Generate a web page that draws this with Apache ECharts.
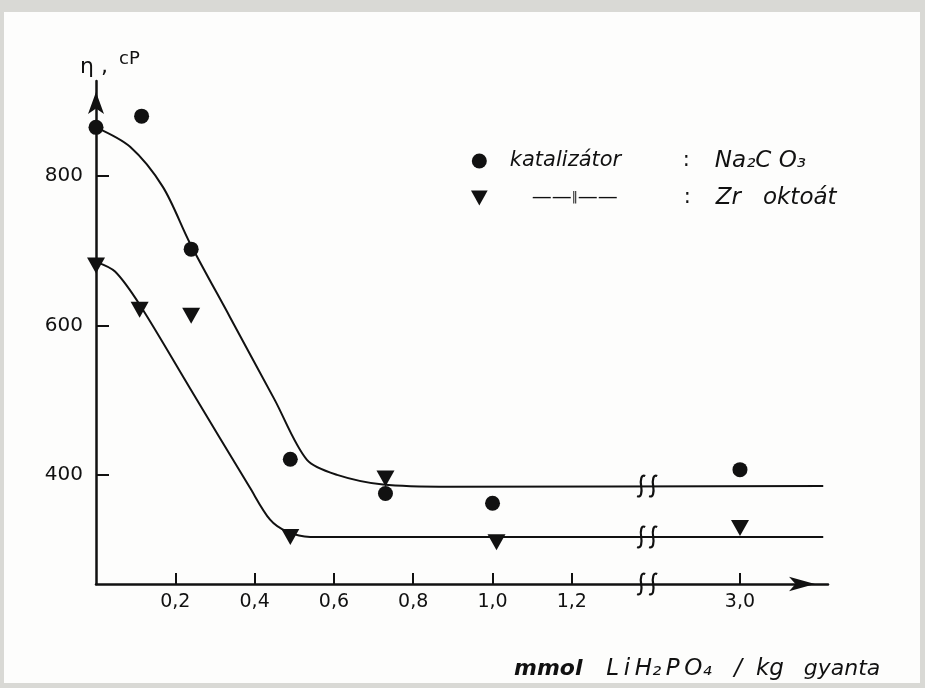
<!DOCTYPE html>
<html>
<head>
<meta charset="utf-8">
<script src="https://cdn.jsdelivr.net/npm/echarts@6/dist/echarts.min.js"></script>
<style>
  html, body { margin: 0; padding: 0; background: #d9d9d5; }
  #chart { width: 925px; height: 688px; }
</style>
</head>
<body>
<div id="chart"></div>
<script>
// Viscosity (cP) of the resin vs. LiH2PO4 content (mmol / kg resin)

// measured points, catalyst Na2CO3
const naX = [0, 0.115, 0.24, 0.49, 0.73, 1.0, 3.0];
const naY = [865, 880, 702, 421, 375, 362, 407];

// measured points, catalyst Zr octoate
const zrX = [0, 0.11, 0.24, 0.49, 0.73, 1.01, 3.0];
const zrY = [680, 621, 613, 317, 395, 310, 329];

// hand-fitted trend curves
const naFitX = [0, 0.086, 0.169, 0.237, 0.338, 0.451, 0.532, 0.608, 0.724, 0.893, 3.21];
const naFitY = [865, 839, 785, 710, 611, 500, 420, 400, 387, 384, 385];
const zrFitX = [0, 0.048, 0.111, 0.237, 0.388, 0.439, 0.482, 0.540, 3.21];
const zrFitY = [685, 672, 627, 516, 383, 340, 324, 317, 317];

// axis ticks
const xTicks = [0.2, 0.4, 0.6, 0.8, 1.0, 1.2, 3.0];
const yTicks = [400, 600, 800];

// broken x axis: everything past the break is shifted left
const BREAK_FROM = 1.3;        // real values above this lie after the break
const X_SHIFT = 1.376;         // 3.0 is drawn at axis position 1.624
const BREAK_AXIS = 1.39;       // where the break marks sit on the axis
const X_MAX = 1.846;
const Y_MIN = 254, Y_MAX = 927;

const toAxis = x => (x > BREAK_FROM ? x - X_SHIFT : x);
const fromAxis = p => (p > BREAK_AXIS ? p + X_SHIFT : p);
const pairs = (xs, ys) => xs.map((x, i) => [toAxis(x), ys[i]]);

const INK = '#111111';
const FONT = '"DejaVu Sans", "Noto Sans", sans-serif';
const TRI = 'path://M0,0L20,0L10,18Z';
const THIN = '\u2009';

const chart = echarts.init(document.getElementById('chart'), null, { renderer: 'canvas' });

// two "ʃ" strokes marking a break in a line
function renderBreak(params, api) {
  const c = api.coord([api.value(0), api.value(1)]);
  const s = (dx) => {
    const x = c[0] + dx, y = c[1];
    return {
      type: 'path',
      shape: {
        pathData: `M${x + 4},${y - 10} C${x},${y - 12} ${x - 1},${y - 6} ${x},${y} ` +
                  `C${x + 1},${y + 6} ${x},${y + 12} ${x - 4},${y + 10}`
      },
      style: { stroke: INK, lineWidth: 2.2, fill: null }
    };
  };
  return { type: 'group', children: [s(-6), s(6)] };
}

const breakPoints = [
  [BREAK_AXIS, Y_MIN],
  [BREAK_AXIS, naFitY[naFitY.length - 1]],
  [BREAK_AXIS, zrFitY[zrFitY.length - 1]]
];

const option = {
  backgroundColor: '#d9d9d5',
  animation: false,
  graphic: [
    { type: 'rect', z: -10, shape: { x: 4, y: 12, width: 916, height: 671 },
      style: { fill: '#fdfdfc' } },
    { type: 'text', left: 80, top: 56, z: 10,
      style: { text: 'η ,', font: `22px ${FONT}`, fill: INK } },
    { type: 'text', left: 119, top: 50, z: 10,
      style: { text: 'cP', font: `18px ${FONT}`, fill: INK } },
    { type: 'text', left: 514, top: 658, z: 10,
      style: {
        text: '{b|mmol}{f|' + ['L', 'i', 'H₂', 'P', 'O₄'].join(THIN) + '}{f2|/}{f3|kg}{gap| }{f4|gyanta}',
        rich: {
          b: { font: `bold italic 22px ${FONT}`, fill: INK, width: 76 },
          f: { font: `italic 23px ${FONT}`, fill: INK, width: 138, align: 'center' },
          f2: { font: `italic 23px ${FONT}`, fill: INK, width: 20, align: 'center' },
          f3: { font: `italic 23px ${FONT}`, fill: INK, width: 44, align: 'center' },
          gap: { width: 12 },
          f4: { font: `italic 22px ${FONT}`, fill: INK, width: 76, align: 'center' }
        }
      } }
  ],
  grid: { left: 96, top: 81, right: 97, bottom: 104, containLabel: false },
  legend: {
    orient: 'vertical',
    left: 471, top: 149,
    padding: 0,
    itemGap: 13,
    itemWidth: 17, itemHeight: 15,
    selectedMode: false,
    data: [
      { name: 'katalizátor', icon: 'circle' },
      { name: 'Zr oktoát', icon: TRI }
    ],
    formatter: name => name === 'katalizátor'
      ? '{sp| }{lab|katalizátor}{col|:}{fml|Na₂C O₃}'
      : '{sp| }{pad| }{dash|——}{bar|‖}{dash|——}{gap| }{col|:}{fml|Zr   oktoát}',
    textStyle: {
      color: INK, fontFamily: FONT, fontSize: 21, lineHeight: 24,
      rich: {
        sp: { width: 17 },
        pad: { width: 22 },
        lab: { width: 173, fontStyle: 'italic', fontSize: 21, color: INK, fontFamily: FONT },
        col: { width: 32, fontSize: 21, color: INK, fontFamily: FONT },
        fml: { fontStyle: 'italic', fontSize: 23, color: INK, fontFamily: FONT },
        dash: { fontSize: 20, color: INK, fontFamily: FONT },
        bar: { fontSize: 12, color: INK, fontFamily: FONT },
        gap: { width: 66 }
      }
    }
  },
  xAxis: {
    type: 'value',
    min: 0, max: X_MAX,
    splitLine: { show: false },
    axisLine: {
      onZero: false,
      lineStyle: { color: INK, width: 2.5 },
      symbol: ['none', 'arrow'],
      symbolSize: [11, 26],
      symbolOffset: [0, -13]
    },
    axisTick: {
      inside: true, length: 11,
      lineStyle: { color: INK, width: 2 },
      customValues: xTicks.map(toAxis)
    },
    axisLabel: {
      margin: 9,
      color: INK, fontFamily: FONT, fontSize: 19,
      customValues: xTicks.map(toAxis),
      formatter: v => fromAxis(v).toFixed(1).replace('.', ',')
    }
  },
  yAxis: {
    type: 'value',
    min: Y_MIN, max: Y_MAX,
    splitLine: { show: false },
    axisLine: {
      onZero: false,
      lineStyle: { color: INK, width: 2.5 },
      symbol: ['none', 'arrow'],
      symbolSize: [12, 22],
      symbolOffset: [0, -11]
    },
    axisTick: {
      inside: true, length: 13,
      lineStyle: { color: INK, width: 2 },
      customValues: yTicks
    },
    axisLabel: {
      margin: 13,
      color: INK, fontFamily: FONT, fontSize: 20,
      customValues: yTicks
    }
  },
  series: [
    {
      name: 'Na₂CO₃ trend', type: 'line', data: pairs(naFitX, naFitY),
      smooth: 0.3, showSymbol: false, symbol: 'none',
      lineStyle: { color: INK, width: 2 }, z: 3, silent: true
    },
    {
      name: 'Zr oktoát trend', type: 'line', data: pairs(zrFitX, zrFitY),
      smooth: 0.3, showSymbol: false, symbol: 'none',
      lineStyle: { color: INK, width: 2 }, z: 3, silent: true
    },
    {
      name: 'breaks', type: 'custom', data: breakPoints,
      renderItem: renderBreak, clip: false, z: 4, silent: true
    },
    {
      name: 'katalizátor', type: 'scatter', data: pairs(naX, naY),
      symbol: 'circle', symbolSize: 15, clip: false,
      itemStyle: { color: INK, opacity: 1 }, z: 5
    },
    {
      name: 'Zr oktoát', type: 'scatter', data: pairs(zrX, zrY),
      symbol: TRI, symbolSize: [18, 16], clip: false,
      itemStyle: { color: INK, opacity: 1 }, z: 5
    }
  ]
};

chart.setOption(option);
</script>
</body>
</html>
